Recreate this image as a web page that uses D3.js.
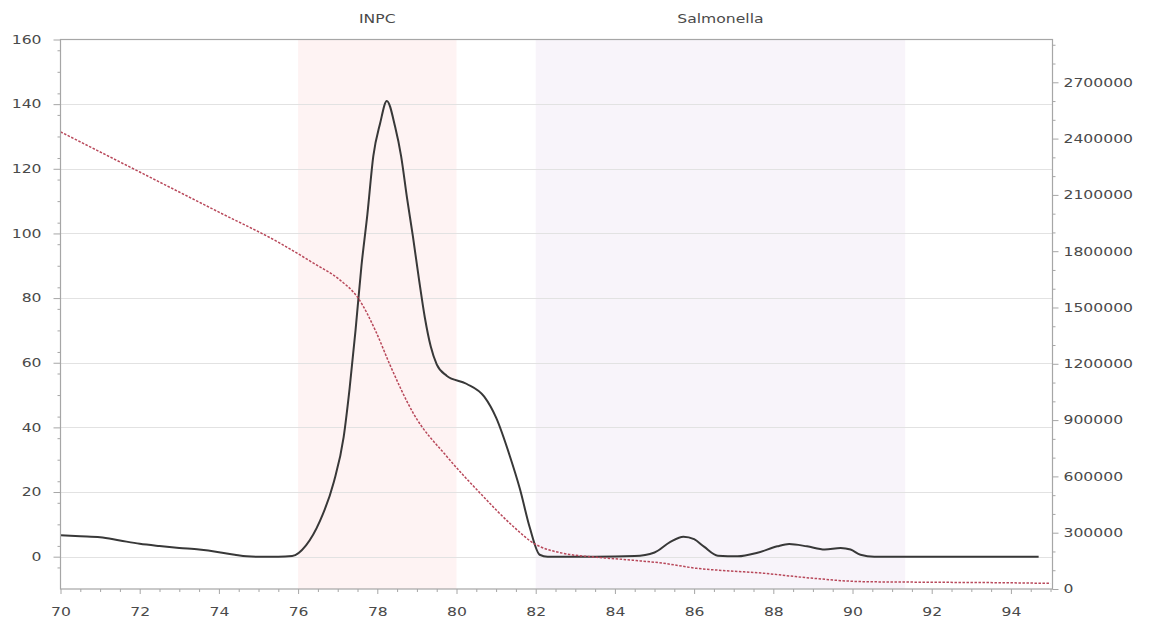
<!DOCTYPE html>
<html>
<head>
<meta charset="utf-8">
<script src="https://cdn.jsdelivr.net/npm/d3@7"></script>
<style>
  html, body { margin: 0; padding: 0; background: #ffffff; }
  svg { display: block; }
  text { font-family: "DejaVu Sans", Verdana, sans-serif; font-size: 12px; fill: #4a4a4a; }
</style>
</head>
<body>
<svg id="chart" width="1153" height="628"></svg>
<script>
// ---------- data ----------
const xTicks = [70, 72, 74, 76, 78, 80, 82, 84, 86, 88, 90, 92, 94];
const leftTicks = [0, 20, 40, 60, 80, 100, 120, 140, 160];
const rightTicks = [0, 300000, 600000, 900000, 1200000, 1500000, 1800000, 2100000, 2400000, 2700000];

const regionNames = ["INPC", "Salmonella"];
const regionStart = [76, 82];
const regionEnd = [80, 91.33];

// black trace (left axis)
const blackX = [70, 70.5, 71, 71.5, 72, 72.5, 73, 73.5, 74, 74.4, 74.7, 75, 75.5, 75.85,
  76.2, 76.55, 76.9, 77.15, 77.3, 77.45, 77.6, 77.75, 77.9, 78.07, 78.24, 78.45, 78.6, 78.75,
  78.9, 79.05, 79.2, 79.35, 79.5, 79.75, 80.25, 80.7, 81.0, 81.35, 81.6, 81.85, 82.1, 82.3,
  82.8, 83.5, 84.5, 85.0, 85.4, 85.73, 86.0, 86.25, 86.6, 87.1, 87.6, 88.1, 88.4, 88.85, 89.3, 89.7,
  89.95, 90.2, 90.55, 91.5, 94.7];
const blackY = [6.6, 6.3, 6.0, 5.0, 4.0, 3.3, 2.7, 2.2, 1.4, 0.6, 0.1, 0, 0, 0.2,
  3.5, 11, 23, 37, 52, 70, 90, 106, 124, 134, 141, 133, 124, 111,
  99, 86, 74, 65, 59.5, 56, 53.5, 49.5, 43, 31, 21, 9, 0.6, 0,
  0, 0, 0.2, 1.3, 4.6, 6.2, 5.4, 3.1, 0.3, 0.1, 1.2, 3.2, 3.9, 3.2, 2.2, 2.7,
  2.2, 0.6, 0, 0, 0];

// red trace (right axis)
const redX = [70, 72, 74, 75.55, 76.39, 77.06, 77.52, 77.97, 78.32, 78.91, 79.76, 80.6,
  81.44, 81.95, 82.12, 82.7, 83.55, 84.39, 85.23, 86.07, 86.91, 87.76, 88.43, 89.02,
  89.86, 90.28, 92, 94, 95];
const redY = [2436000, 2222000, 2008000, 1842000, 1736000, 1646000, 1549000, 1369000,
  1194000, 936000, 705000, 510000, 332000, 243500, 225000, 190000, 169000, 154500,
  137000, 110000, 96000, 84000, 69000, 57000, 42600, 39000, 36000, 33000, 30000];

// ---------- layout ----------
const svg = d3.select("#chart");
const L = 60.5, R = 1052.5, T = 39.5, B = 589;

const x = d3.scaleLinear().domain([70, 95.05]).range([L, R]);
const yL = d3.scaleLinear().domain([-10, 160]).range([B, T]);
const yR = d3.scaleLinear().domain([0, 2928000]).range([B, T]);

function stretch(sel, f) {
  sel.each(function () {
    const w = this.getComputedTextLength();
    d3.select(this).attr("textLength", w * f).attr("lengthAdjust", "spacingAndGlyphs");
  });
}

// regions
const regionColors = ["#fef3f3", "#f8f4fa"];
svg.append("g").selectAll("rect")
  .data(regionNames)
  .join("rect")
  .attr("x", (d, i) => x(regionStart[i]))
  .attr("width", (d, i) => x(regionEnd[i]) - x(regionStart[i]))
  .attr("y", T)
  .attr("height", B - T)
  .attr("fill", (d, i) => regionColors[i]);

// grid
svg.append("g").selectAll("line")
  .data(leftTicks.filter(d => d < 160))
  .join("line")
  .attr("x1", L).attr("x2", R)
  .attr("y1", d => Math.round(yL(d)) + 0.5).attr("y2", d => Math.round(yL(d)) + 0.5)
  .attr("stroke", "#e2e2e2").attr("stroke-width", 1);

// region labels
const rl = svg.append("g").selectAll("text")
  .data(regionNames)
  .join("text")
  .attr("x", (d, i) => x((regionStart[i] + regionEnd[i]) / 2))
  .attr("y", 23)
  .attr("text-anchor", "middle")
  .text(d => d);
stretch(rl, 1.3);

// curves
const lineBlack = d3.line()
  .x((d, i) => x(blackX[i]))
  .y(d => yL(d))
  .curve(d3.curveMonotoneX);
svg.append("path")
  .attr("d", lineBlack(blackY))
  .attr("fill", "none")
  .attr("stroke", "#383838")
  .attr("stroke-width", 2);

const lineRed = d3.line()
  .x((d, i) => x(redX[i]))
  .y(d => yR(d))
  .curve(d3.curveMonotoneX);
svg.append("path")
  .attr("d", lineRed(redY))
  .attr("fill", "none")
  .attr("stroke", "#b8485a")
  .attr("stroke-width", 1.5)
  .attr("stroke-dasharray", "2.5,1.5");

// frame
svg.append("rect")
  .attr("x", L).attr("y", T)
  .attr("width", R - L).attr("height", B - T)
  .attr("fill", "none").attr("stroke", "#a6a6a6").attr("stroke-width", 1.2);

// axes
const axisColor = "#a6a6a6";
function styleAxis(g) {
  g.select(".domain").remove();
  g.selectAll("line").attr("stroke", axisColor);
  g.selectAll("text").attr("fill", "#4a4a4a")
    .style("font-family", '"DejaVu Sans", Verdana, sans-serif').style("font-size", "12px");
}

// x minor
const xMinor = d3.range(70, 95.01, 0.5).filter(v => !xTicks.includes(v));
svg.append("g").attr("transform", `translate(0,${B})`)
  .call(d3.axisBottom(x).tickValues(xMinor).tickSize(3).tickFormat(""))
  .call(styleAxis);
const gx = svg.append("g").attr("transform", `translate(0,${B})`)
  .call(d3.axisBottom(x).tickValues(xTicks).tickSize(5).tickPadding(13).tickFormat(d3.format("d")))
  .call(styleAxis);
stretch(gx.selectAll("text"), 1.3);

// left minor
const lMinor = d3.range(-10, 160, 20 / 3).filter(v => Math.abs(v % 20) > 0.01 && v > -10);
svg.append("g").attr("transform", `translate(${L},0)`)
  .call(d3.axisLeft(yL).tickValues(lMinor).tickSize(3).tickFormat(""))
  .call(styleAxis);
const gl = svg.append("g").attr("transform", `translate(${L},0)`)
  .call(d3.axisLeft(yL).tickValues(leftTicks).tickSize(7).tickPadding(12).tickFormat(d3.format("d")))
  .call(styleAxis);
stretch(gl.selectAll("text"), 1.3);

// right minor
const rMinor = d3.range(100000, 2928000, 100000).filter(v => v % 300000 !== 0);
svg.append("g").attr("transform", `translate(${R},0)`)
  .call(d3.axisRight(yR).tickValues(rMinor).tickSize(3).tickFormat(""))
  .call(styleAxis);
const gr = svg.append("g").attr("transform", `translate(${R},0)`)
  .call(d3.axisRight(yR).tickValues(rightTicks).tickSize(6).tickPadding(5).tickFormat(d3.format("d")))
  .call(styleAxis);
stretch(gr.selectAll("text"), 1.3);
</script>
</body>
</html>
